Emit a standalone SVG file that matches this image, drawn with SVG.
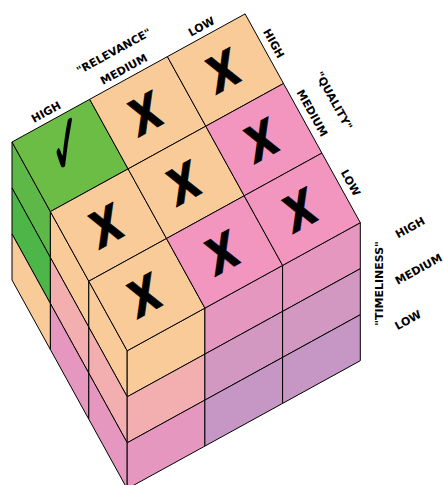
<svg xmlns="http://www.w3.org/2000/svg" width="444" height="485" viewBox="0 0 444 485">
<style>
  .c { stroke:#000; stroke-width:1; stroke-linejoin:round; }
  .or { fill:#f9cb99; }
  .gt { fill:#6cbd45; }
  .g1 { fill:#5db848; }
  .g2 { fill:#4cb648; }
  .pt { fill:#f296c0; }
  .sa { fill:#f3afb0; }
  .pk { fill:#e597c0; }
  .mv { fill:#d398c2; }
  .pu { fill:#c697c5; }
  .x { font-family:"DejaVu Sans","Liberation Sans",sans-serif; font-weight:bold; font-style:italic; font-size:48px; text-anchor:middle; fill:#000; stroke:#000; stroke-width:0.8; }
  .ck { font-family:"DejaVu Sans",sans-serif; font-size:48px; text-anchor:middle; fill:#000; }
  .lbl { font-family:"DejaVu Sans",Verdana,sans-serif; font-weight:bold; font-size:11px; text-anchor:middle; fill:#000; }
</style>

<!-- Left face -->
<g id="left-face">
  <polygon class="c g1" points="12,142 50.4,211.6 50.4,257.6 12,188"/>
  <polygon class="c g2" points="12,188 50.4,257.6 50.4,303.6 12,234"/>
  <polygon class="c or" points="12,234 50.4,303.6 50.4,349.6 12,280"/>
  <polygon class="c or" points="50.4,211.6 88.8,281.2 88.8,327.2 50.4,257.6"/>
  <polygon class="c sa" points="50.4,257.6 88.8,327.2 88.8,373.2 50.4,303.6"/>
  <polygon class="c pk" points="50.4,303.6 88.8,373.2 88.8,419.2 50.4,349.6"/>
  <polygon class="c or" points="88.8,281.2 127.2,350.8 127.2,396.8 88.8,327.2"/>
  <polygon class="c sa" points="88.8,327.2 127.2,396.8 127.2,442.8 88.8,373.2"/>
  <polygon class="c pk" points="88.8,373.2 127.2,442.8 127.2,488.8 88.8,419.2"/>
</g>

<!-- Right face -->
<g id="right-face">
  <polygon class="c or" points="127.2,350.8 204.9,308.1 204.9,354.1 127.2,396.8"/>
  <polygon class="c sa" points="127.2,396.8 204.9,354.1 204.9,400.1 127.2,442.8"/>
  <polygon class="c pk" points="127.2,442.8 204.9,400.1 204.9,446.1 127.2,488.8"/>
  <polygon class="c pk" points="204.9,308.1 282.6,265.4 282.6,311.4 204.9,354.1"/>
  <polygon class="c mv" points="204.9,354.1 282.6,311.4 282.6,357.4 204.9,400.1"/>
  <polygon class="c pu" points="204.9,400.1 282.6,357.4 282.6,403.4 204.9,446.1"/>
  <polygon class="c pk" points="282.6,265.4 360.3,222.7 360.3,268.7 282.6,311.4"/>
  <polygon class="c mv" points="282.6,311.4 360.3,268.7 360.3,314.7 282.6,357.4"/>
  <polygon class="c pu" points="282.6,357.4 360.3,314.7 360.3,360.7 282.6,403.4"/>
</g>

<!-- Top face cells -->
<g id="cell-high-high">
  <polygon class="c gt" points="12,142 89.7,99.3 128.1,168.9 50.4,211.6"/>
  <text class="ck" transform="translate(67,149) rotate(-10) scale(0.85,1.85)" y="14">✓</text>
</g>
<g id="cell-medium-high">
  <polygon class="c or" points="89.7,99.3 167.4,56.6 205.8,126.2 128.1,168.9"/>
  <text class="x" transform="translate(147.75,112.75) rotate(-28.8) scale(0.85,1)" x="-3" y="17">X</text>
</g>
<g id="cell-low-high">
  <polygon class="c or" points="167.4,56.6 245.1,13.9 283.5,83.5 205.8,126.2"/>
  <text class="x" transform="translate(225.45,70.05) rotate(-28.8) scale(0.85,1)" x="-3" y="17">X</text>
</g>
<g id="cell-high-medium">
  <polygon class="c or" points="50.4,211.6 128.1,168.9 166.5,238.5 88.8,281.2"/>
  <text class="x" transform="translate(108.45,225.05) rotate(-28.8) scale(0.85,1)" x="-3" y="17">X</text>
</g>
<g id="cell-medium-medium">
  <polygon class="c or" points="128.1,168.9 205.8,126.2 244.2,195.8 166.5,238.5"/>
  <text class="x" transform="translate(186.15,182.35) rotate(-28.8) scale(0.85,1)" x="-3" y="17">X</text>
</g>
<g id="cell-low-medium">
  <polygon class="c pt" points="205.8,126.2 283.5,83.5 321.9,153.1 244.2,195.8"/>
  <text class="x" transform="translate(263.85,139.65) rotate(-28.8) scale(0.85,1)" x="-3" y="17">X</text>
</g>
<g id="cell-high-low">
  <polygon class="c or" points="88.8,281.2 166.5,238.5 204.9,308.1 127.2,350.8"/>
  <text class="x" transform="translate(146.85,294.65) rotate(-28.8) scale(0.85,1)" x="-3" y="17">X</text>
</g>
<g id="cell-medium-low">
  <polygon class="c pt" points="166.5,238.5 244.2,195.8 282.6,265.4 204.9,308.1"/>
  <text class="x" transform="translate(224.55,251.95) rotate(-28.8) scale(0.85,1)" x="-3" y="17">X</text>
</g>
<g id="cell-low-low">
  <polygon class="c pt" points="244.2,195.8 321.9,153.1 360.3,222.7 282.6,265.4"/>
  <text class="x" transform="translate(302.25,209.25) rotate(-28.8) scale(0.85,1)" x="-3" y="17">X</text>
</g>

<!-- Labels -->
<g id="labels-relevance">
  <text class="lbl" transform="translate(46,111.9) rotate(-28.8)" y="4">HIGH</text>
  <text class="lbl" transform="translate(123.7,69.1) rotate(-28.8)" y="4">MEDIUM</text>
  <text class="lbl" transform="translate(201.4,26.4) rotate(-28.8)" y="4">LOW</text>
  <text class="lbl" transform="translate(113.8,51.2) rotate(-28.8)" y="4">"RELEVANCE"</text>
</g>
<g id="labels-quality">
  <text class="lbl" transform="translate(273.9,43.4) rotate(61.1)" y="4">HIGH</text>
  <text class="lbl" transform="translate(312.3,113) rotate(61.1)" y="4">MEDIUM</text>
  <text class="lbl" transform="translate(350.7,182.7) rotate(61.1)" y="4">LOW</text>
  <text class="lbl" transform="translate(334,100.5) rotate(61.1)" y="4">"QUALITY"</text>
</g>
<g id="labels-timeliness">
  <text class="lbl" transform="translate(410,227.5) rotate(-28.8)" y="4">HIGH</text>
  <text class="lbl" transform="translate(418.5,269) rotate(-28.8)" y="4">MEDIUM</text>
  <text class="lbl" transform="translate(408,320) rotate(-28.8)" y="4">LOW</text>
  <text class="lbl" transform="translate(378.5,283.5) rotate(-90)" y="4">"TIMELINESS"</text>
</g>
</svg>
